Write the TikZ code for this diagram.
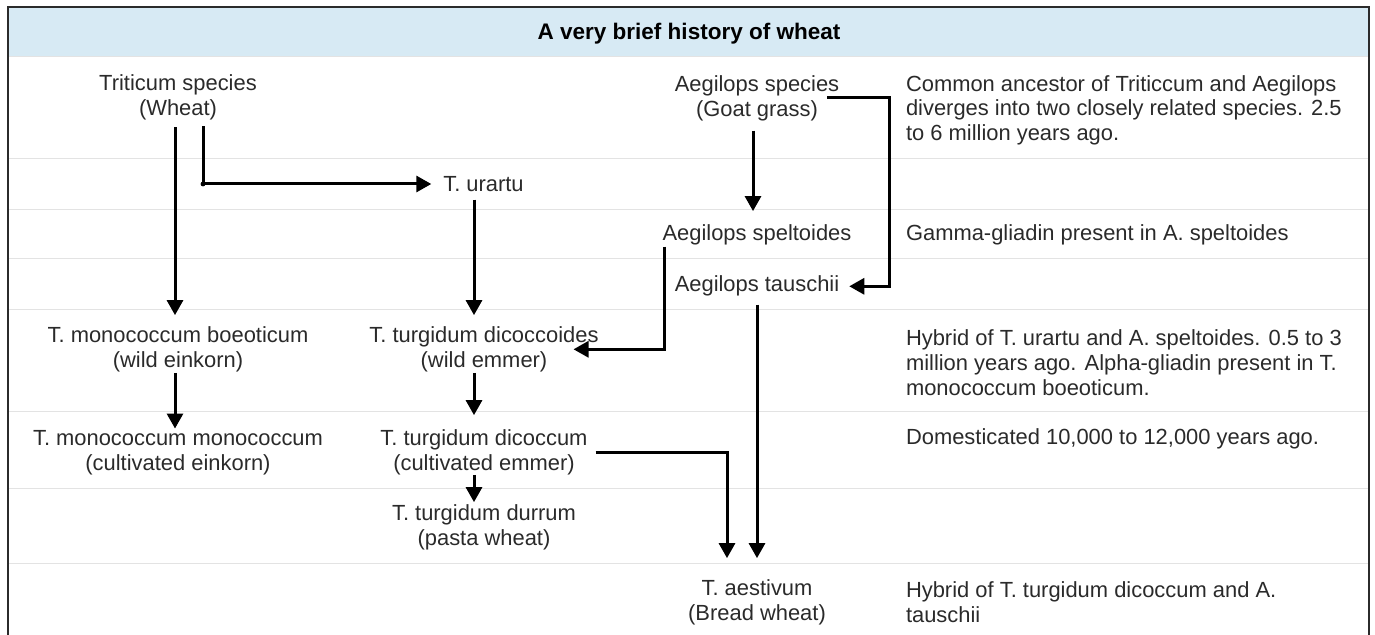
\documentclass[tikz,border=0pt]{standalone}
\usepackage{fontspec}
\setmainfont{Liberation Sans}
\usetikzlibrary{arrows.meta}
\definecolor{hdr}{HTML}{D7EAF4}
\definecolor{rulec}{HTML}{E3E3E3}
\definecolor{txt}{HTML}{2A2A2A}
\definecolor{framec}{HTML}{2B2B2B}
\begin{document}
\begin{tikzpicture}[x=1bp,y=-1bp,
  lbl/.style={inner sep=0pt, outer sep=0pt, align=center, text=txt, font=\fontsize{22}{25}\selectfont},
  desc/.style={lbl, align=left, anchor=west},
  arr/.style={line width=3bp, draw=black, -{Triangle[length=15bp,width=16bp]}},
  seprule/.style={draw=rulec, line width=1bp}]
\useasboundingbox (0,0) rectangle (1375,635);
% header band
\fill[hdr] (8,7) rectangle (1369,57);
% row separators
\foreach \yy in {57,159,209,258,309,411,488,563}
  \draw[seprule] (8,\yy) -- (1369,\yy);
% frame
\draw[draw=framec, line width=1.5bp] (8,635) -- (8,7) -- (1369,7) -- (1369,635);
% title
\node[lbl, text=black, font=\fontsize{22.6}{25}\selectfont\bfseries] (title) at (689,34) {A very brief history of wheat};
% species nodes
\node[lbl] (trit) at (178,97.5) {Triticum species\\(Wheat)};
\node[lbl] (aeg) at (757,98) {Aegilops species\\(Goat grass)};
\node[lbl] (urartu) at (483.5,184) {T. urartu};
\node[lbl] (spelt) at (757,235.3) {Aegilops speltoides};
\node[lbl] (tausch) at (757,286.3) {Aegilops tauschii};
\node[lbl] (boeot) at (178,349.3) {T. monococcum boeoticum\\(wild einkorn)};
\node[lbl] (dicoides) at (484,349.3) {T. turgidum dicoccoides\\(wild emmer)};
\node[lbl] (mono) at (178,452.3) {T. monococcum monococcum\\(cultivated einkorn)};
\node[lbl] (dicoccum) at (484,452.3) {T. turgidum dicoccum\\(cultivated emmer)};
\node[lbl] (durrum) at (484,527.3) {T. turgidum durrum\\(pasta wheat)};
\node[lbl] (aest) at (757,602.3) {T. aestivum\\(Bread wheat)};
% descriptions
\node[desc] (d1) at (906,110.3) {Common ancestor of Triticcum and Aegilops\\diverges into two closely related species. 2.5\\to 6 million years ago.};
\node[desc] (d2) at (906,235.3) {Gamma-gliadin present in A. speltoides};
\node[desc] (d3) at (906,362.3) {Hybrid of T. urartu and A. speltoides. 0.5 to 3\\million years ago. Alpha-gliadin present in T.\\monococcum boeoticum.};
\node[desc] (d4) at (906,439.3) {Domesticated 10,000 to 12,000 years ago.};
\node[desc] (d5) at (906,602.3) {Hybrid of T. turgidum dicoccum and A.\\tauschii};
% column coordinates
\coordinate (x175) at (175,0);
\coordinate (x203) at (203,0);
\coordinate (x474) at (474,0);
\coordinate (x753) at (753,0);
\coordinate (x889) at (889,0);
\coordinate (x664) at (664,0);
% connectors
\draw[arr, shorten <=7bp, shorten >=11.5bp] (trit.south -| x175) -- (boeot.north -| x175);
\draw[arr, shorten <=6bp, shorten >=12bp] (trit.south -| x203) |- (urartu.west);
\fill (x203 |- urartu.west) circle (2.4bp);
\draw[arr, shorten <=8bp, shorten >=11.5bp] (urartu.south -| x474) -- (dicoides.north -| x474);
\draw[arr, shorten <=10bp, shorten >=14bp] (aeg.south -| x753) -- (spelt.north -| x753);
\draw[arr] ([xshift=-12bp]aeg.east) -- (aeg.east -| x889) -- (tausch.east -| x889) -- ([xshift=10bp]tausch.east);
\draw[arr, shorten <=1bp] (spelt.south -| x664) -- (dicoides.east -| x664) -- ([xshift=-25bp]dicoides.east);
\draw[arr, shorten <=8bp, shorten >=21.5bp] (tausch.south) -- (aest.north);
\draw[arr, shorten >=21.5bp] ([xshift=8bp]dicoccum.east) -| ([xshift=-30bp]aest.north);
\draw[arr, shorten <=1bp, shorten >=1.5bp] (boeot.south -| x175) -- (mono.north -| x175);
\draw[arr, shorten <=1bp, shorten >=14.5bp] (dicoides.south -| x474) -- (dicoccum.north -| x474);
\draw[arr, shorten >=2.5bp] (dicoccum.south -| x474) -- (durrum.north -| x474);
\end{tikzpicture}
\end{document}
